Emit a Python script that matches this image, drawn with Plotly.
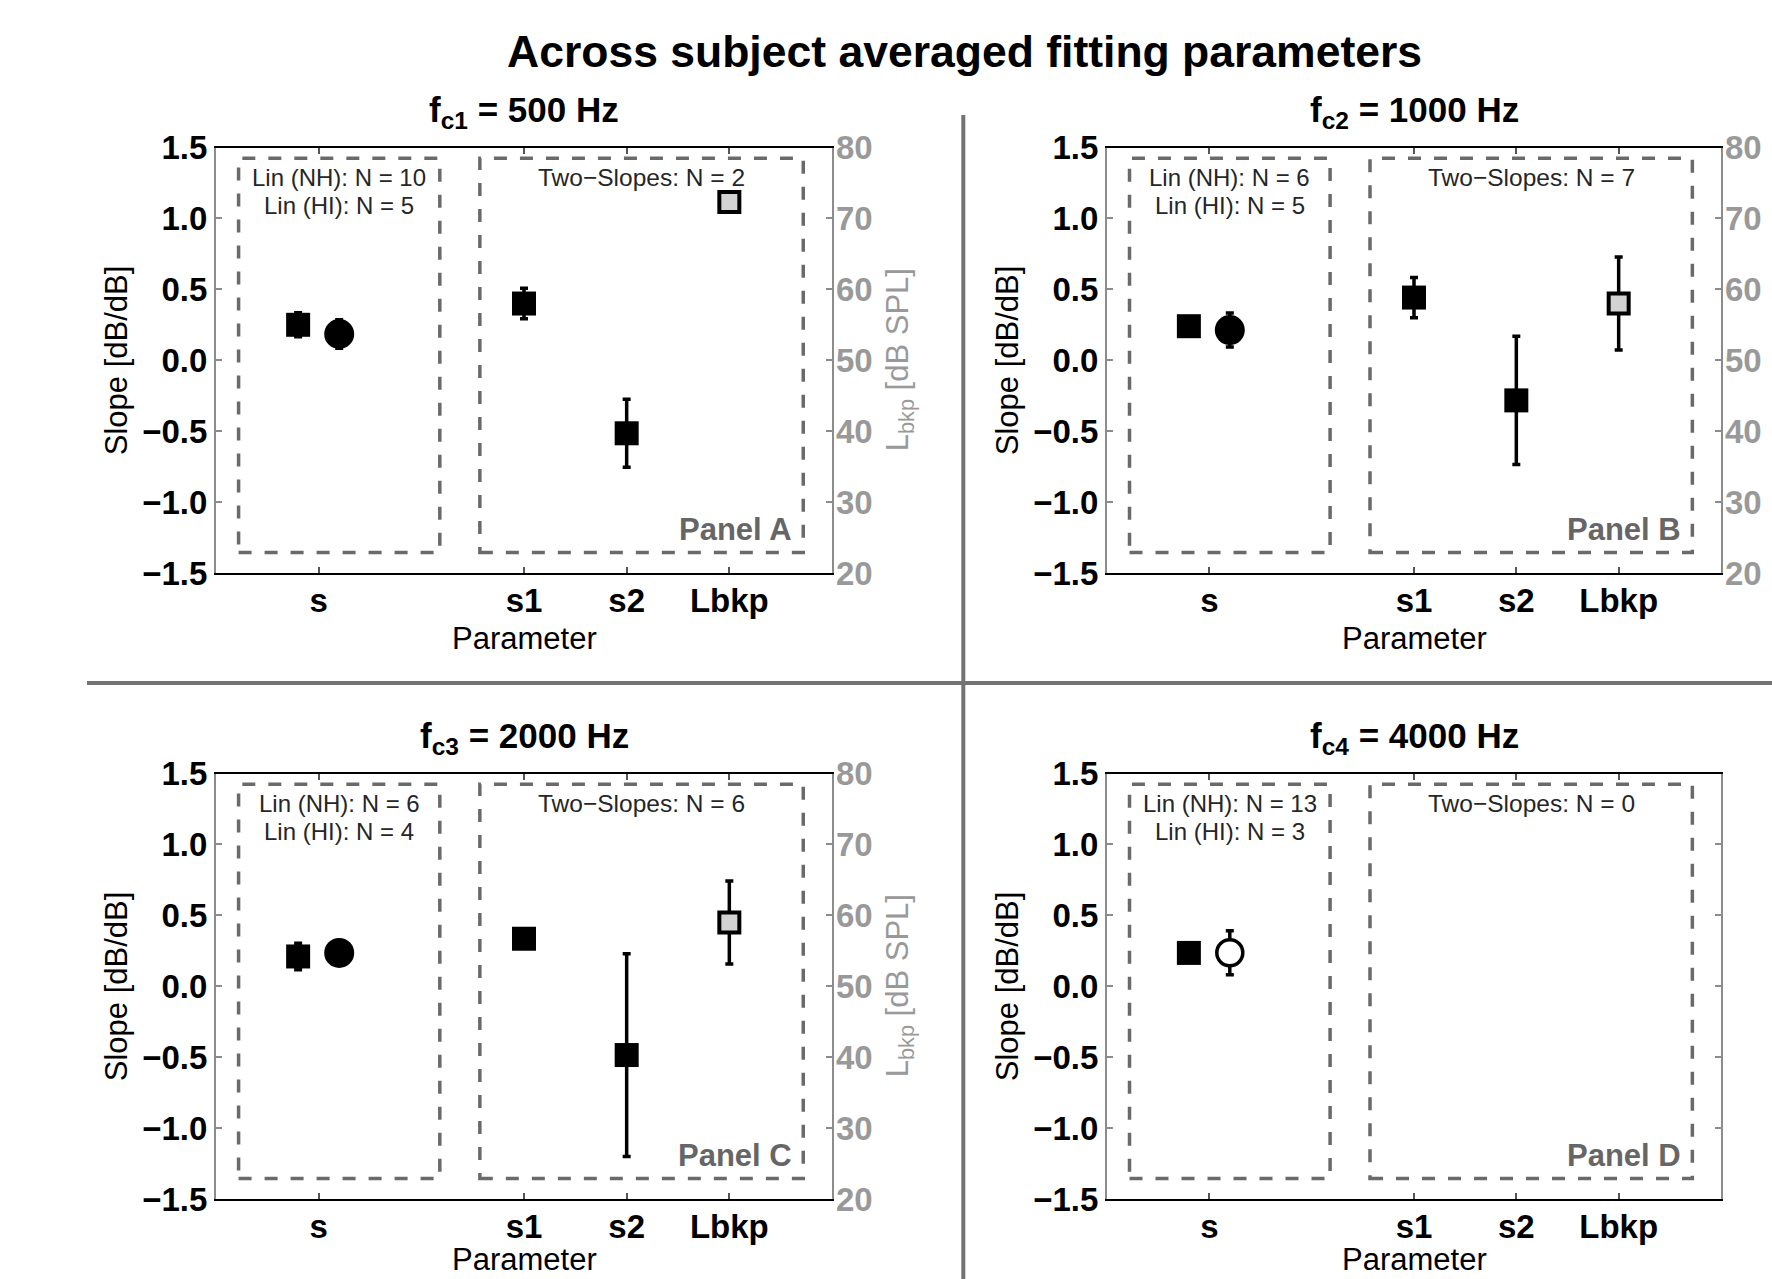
import plotly.graph_objects as go

# ---- data -------------------------------------------------------------
PANEL_LABELS = ["A", "B", "C", "D"]
FC_NAMES = ["c1", "c2", "c3", "c4"]
FC_HZ = [500, 1000, 2000, 4000]

N_LIN_NH = [10, 6, 6, 13]
N_LIN_HI = [5, 5, 4, 3]
N_TWO_SLOPES = [2, 7, 6, 0]

# linear model slope s (dB/dB): normal hearing / hearing impaired
S_NH_MEAN = [0.25, 0.24, 0.21, 0.235]
S_NH_ERR = [0.085, 0.05, 0.093, 0.04]
S_HI_MEAN = [0.185, 0.213, 0.235, 0.236]
S_HI_ERR = [0.10, 0.12, 0.05, 0.155]
S_HI_FILLED = [True, True, True, False]

# two-slope model: s1, s2 (dB/dB) and breakpoint level Lbkp (dB SPL)
S1_MEAN = [0.40, 0.442, 0.335, None]
S1_ERR = [0.108, 0.142, 0.05, None]
S2_MEAN = [-0.515, -0.283, -0.485, None]
S2_ERR = [0.24, 0.452, 0.715, None]
LBKP_MEAN = [72.3, 58.0, 59.0, None]
LBKP_ERR = [0.3, 6.55, 5.85, None]

PARAM_POS = [1, 3, 4, 5]
PARAM_NAMES = ["s", "s1", "s2", "Lbkp"]
SLOPE_TICKS = [-1.5, -1.0, -0.5, 0.0, 0.5, 1.0, 1.5]
LEVEL_TICKS = [20, 30, 40, 50, 60, 70, 80]

# ---- geometry (pixels of a 1772 x 1279 canvas) ------------------------
W, H = 1772, 1279
X_PX = [(216, 832), (1107, 1721), (216, 832), (1107, 1721)]
Y_PX = [(147.5, 573), (147.5, 573), (773.5, 1199), (773.5, 1199)]

FONT = "Liberation Sans, Arial, Helvetica, sans-serif"
GREY_AX = "#8c8c8c"
GREY_R = "#999999"
GREY_BOX = "#6a6a6a"


def px(v):
    return v / W


def py(v):
    return 1 - v / H


fig = go.Figure()
annotations = []
shapes = []
layout = {}

for i in range(4):
    k = i + 1
    xname = "x" if k == 1 else f"x{k}"
    yl = 2 * i + 1
    yr = 2 * i + 2
    ylname = "y" if yl == 1 else f"y{yl}"
    yrname = f"y{yr}"
    x0, x1 = X_PX[i]
    y0, y1 = Y_PX[i]

    layout["xaxis" if k == 1 else f"xaxis{k}"] = dict(
        domain=[px(x0), px(x1)], anchor=ylname, range=[0, 6],
        tickvals=PARAM_POS, ticktext=PARAM_NAMES,
        tickfont=dict(family=FONT, size=33, color="black", weight="bold"),
        showline=True, linecolor="black", linewidth=2, mirror="ticks",
        ticks="inside", ticklen=6, tickwidth=1.5, tickcolor="#555555",
        ticklabelstandoff=-3, showgrid=False, zeroline=False, fixedrange=True,
        automargin=False,
    )
    layout["yaxis" if yl == 1 else f"yaxis{yl}"] = dict(
        domain=[py(y1), py(y0)], anchor=xname, range=[-1.5, 1.5],
        tickvals=SLOPE_TICKS, tickformat=".1f",
        tickfont=dict(family=FONT, size=33, color="black", weight="bold"),
        showline=True, linecolor=GREY_AX, linewidth=2, mirror="ticks",
        ticks="inside", ticklen=6, tickwidth=1.5, tickcolor=GREY_AX,
        ticklabelstandoff=0, showgrid=False, zeroline=False, fixedrange=True,
        automargin=False,
    )
    layout[f"yaxis{yr}"] = dict(
        overlaying=ylname, anchor=xname, side="right", range=[20, 80],
        tickvals=LEVEL_TICKS,
        tickfont=dict(family=FONT, size=33, color=GREY_R, weight="bold"),
        showline=False, ticks="inside", ticklen=6, tickwidth=1.5,
        tickcolor=GREY_AX, ticklabelstandoff=3,
        showgrid=False, zeroline=False, fixedrange=True, automargin=False,
    )

    # dashed boxes grouping the linear and two-slope parameters
    for bx0, bx1 in [(0.22, 2.18), (2.57, 5.72)]:
        shapes.append(dict(
            type="rect", xref=xname, yref=ylname,
            x0=bx0, x1=bx1, y0=-1.355, y1=1.425,
            line=dict(color=GREY_BOX, width=3.5, dash="13px,13px"),
            layer="below",
        ))

    # linear model slope, NH (square) and HI (circle)
    fig.add_trace(go.Scatter(
        x=[0.8], y=[S_NH_MEAN[i]], mode="markers",
        marker=dict(symbol="square", size=24, color="black", line=dict(width=0)),
        error_y=dict(type="data", array=[S_NH_ERR[i]], color="black",
                     thickness=3.5, width=4),
        xaxis=xname, yaxis=ylname, showlegend=False, cliponaxis=False,
    ))
    if S_HI_FILLED[i]:
        hi_marker = dict(symbol="circle", size=30, color="black",
                         line=dict(width=0))
    else:
        hi_marker = dict(symbol="circle", size=26, color="white",
                         line=dict(width=3.5, color="black"))
    fig.add_trace(go.Scatter(
        x=[1.2], y=[S_HI_MEAN[i]], mode="markers", marker=hi_marker,
        error_y=dict(type="data", array=[S_HI_ERR[i]], color="black",
                     thickness=3.5, width=4),
        xaxis=xname, yaxis=ylname, showlegend=False, cliponaxis=False,
    ))

    # two-slope model parameters
    if N_TWO_SLOPES[i] > 0:
        fig.add_trace(go.Scatter(
            x=[PARAM_POS[1], PARAM_POS[2]], y=[S1_MEAN[i], S2_MEAN[i]],
            mode="markers",
            marker=dict(symbol="square", size=24, color="black",
                        line=dict(width=0)),
            error_y=dict(type="data", array=[S1_ERR[i], S2_ERR[i]],
                         color="black", thickness=3.5, width=4),
            xaxis=xname, yaxis=ylname, showlegend=False, cliponaxis=False,
        ))
        fig.add_trace(go.Scatter(
            x=[PARAM_POS[3]], y=[LBKP_MEAN[i]], mode="markers",
            marker=dict(symbol="square", size=20, color="#d3d3d3",
                        line=dict(width=4, color="black")),
            error_y=dict(type="data", array=[LBKP_ERR[i]], color="black",
                         thickness=3.5, width=4),
            xaxis=xname, yaxis=yrname, showlegend=False, cliponaxis=False,
        ))

    # text inside the boxes
    txt_font = dict(family=FONT, size=24, color="#262626")
    annotations += [
        dict(text=f"Lin (NH): N = {N_LIN_NH[i]}", x=1.2, y=1.289,
             xref=xname, yref=ylname, showarrow=False, font=txt_font),
        dict(text=f"Lin (HI): N = {N_LIN_HI[i]}", x=1.2, y=1.09,
             xref=xname, yref=ylname, showarrow=False, font=txt_font),
        dict(text=f"Two\u2212Slopes: N = {N_TWO_SLOPES[i]}", x=4.145, y=1.289,
             xref=xname, yref=ylname, showarrow=False,
             font=dict(family=FONT, size=24.5, color="#262626")),
        dict(text=f"Panel {PANEL_LABELS[i]}", x=5.63, y=-1.19,
             xref=xname, yref=ylname, xanchor="right", showarrow=False,
             font=dict(family=FONT, size=31, color="#666666", weight="bold")),
    ]

    xc = (x0 + x1) / 2
    yc = (y0 + y1) / 2
    # panel title
    annotations.append(dict(
        text=f"f<sub>{FC_NAMES[i]}</sub> = {FC_HZ[i]} Hz",
        x=px(xc), y=py(y0 - 36), xref="paper", yref="paper",
        xanchor="center", yanchor="middle", showarrow=False,
        font=dict(family=FONT, size=35, color="black", weight="bold"),
    ))
    # axis titles (bottom row kept inside the canvas)
    xt_y = min(y1 + 65, H - 20)
    annotations.append(dict(
        text="Parameter", x=px(xc), y=py(xt_y), xref="paper", yref="paper",
        xanchor="center", yanchor="middle", showarrow=False,
        font=dict(family=FONT, size=31, color="black"),
    ))
    annotations.append(dict(
        text="Slope [dB/dB]", x=px(x0 - 100), y=py(yc), xref="paper",
        yref="paper", xanchor="center", yanchor="middle", textangle=-90,
        showarrow=False, font=dict(family=FONT, size=31, color="black"),
    ))
    if x1 + 66 < W:
        annotations.append(dict(
            text="L<sub>bkp</sub> [dB SPL]", x=px(x1 + 68), y=py(yc),
            xref="paper", yref="paper", xanchor="center", yanchor="middle",
            textangle=-90, showarrow=False,
            font=dict(family=FONT, size=31, color=GREY_R),
        ))

# overall title
annotations.append(dict(
    text="Across subject averaged fitting parameters",
    x=px(964.5), y=py(51), xref="paper", yref="paper",
    xanchor="center", yanchor="middle", showarrow=False,
    font=dict(family=FONT, size=44.5, color="black", weight="bold"),
))

# separators between the four panels
shapes += [
    dict(type="line", xref="paper", yref="paper", x0=px(87), x1=1,
         y0=py(683), y1=py(683), line=dict(color="#737373", width=4)),
    dict(type="line", xref="paper", yref="paper", x0=px(963.3), x1=px(963.3),
         y0=py(115), y1=0, line=dict(color="#737373", width=4)),
]

fig.update_layout(
    width=W, height=H, margin=dict(l=0, r=0, t=0, b=0, autoexpand=False),
    paper_bgcolor="white", plot_bgcolor="white",
    annotations=annotations, shapes=shapes, showlegend=False,
    **layout,
)

fig.write_html("out.html", config={"displayModeBar": False})
